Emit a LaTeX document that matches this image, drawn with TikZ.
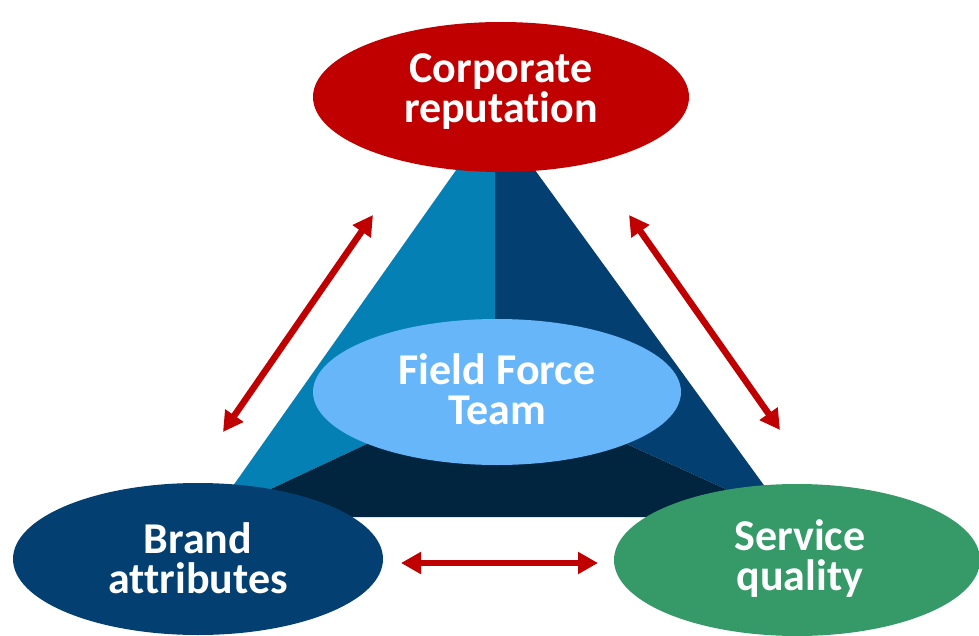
\documentclass[tikz,border=0pt]{standalone}
\usepackage{fontspec}
\setmainfont{Carlito}[Ligatures={NoCommon,NoContextual}]
\usetikzlibrary{shapes.geometric,arrows.meta}
\definecolor{cred}{HTML}{C00000}
\definecolor{cfield}{HTML}{67B6F9}
\definecolor{cbrand}{HTML}{033F70}
\definecolor{cserv}{HTML}{359A68}
\definecolor{cleft}{HTML}{0480B4}
\definecolor{cright}{HTML}{033F70}
\definecolor{cbottom}{HTML}{01253F}
\tikzset{
  oval/.style={ellipse, draw=none, inner sep=0pt},
  lbl/.style={text=white, font=\bfseries\fontsize{44}{40}\selectfont, align=center, inner sep=0pt},
  dblarrow/.style={draw=cred, line width=6.5pt, {Triangle[length=20pt,width=21pt]}-{Triangle[length=20pt,width=21pt]}}
}
\begin{document}
\begin{tikzpicture}[x=1pt,y=-1pt]
\useasboundingbox (0,0) rectangle (979,636);
% pyramid
\coordinate (apex) at (495,115);
\coordinate (bl) at (211,517);
\coordinate (br) at (787,517);
\coordinate (mid) at (495,384);
\fill[cleft] (apex) -- (bl) -- (mid) -- cycle;
\fill[cright] (apex) -- (br) -- (mid) -- cycle;
\fill[cbottom] (bl) -- (br) -- (mid) -- cycle;
% ellipses
\node[oval, fill=cred, minimum width=376pt, minimum height=150pt] (corp) at (501,97) {};
\node[oval, fill=cfield, minimum width=368pt, minimum height=146pt] (field) at (497,392) {};
\node[oval, fill=cbrand, minimum width=370pt, minimum height=152pt] (brand) at (198,559) {};
\node[oval, fill=cserv, minimum width=366pt, minimum height=152pt] (serv) at (797,560) {};
% labels
\node[lbl] (corpt) at (501,92) {Corporate\\reputation};
\node[lbl] (fieldt) at (497,389) {Field Force\\Team};
\node[lbl] (brandt) at (198,558) {Brand\\attributes};
\node[lbl] (servt) at (800,559) {Service\\quality};
% arrows
\coordinate (a1s) at (223,432);
\coordinate (a1e) at (373,215);
\coordinate (a2s) at (629,215);
\coordinate (a2e) at (780,430);
\coordinate (a3s) at (401,563);
\coordinate (a3e) at (598,563);
\draw[dblarrow] (a1s) -- (a1e);
\draw[dblarrow] (a2s) -- (a2e);
\draw[dblarrow] (a3s) -- (a3e);
\end{tikzpicture}
\end{document}
